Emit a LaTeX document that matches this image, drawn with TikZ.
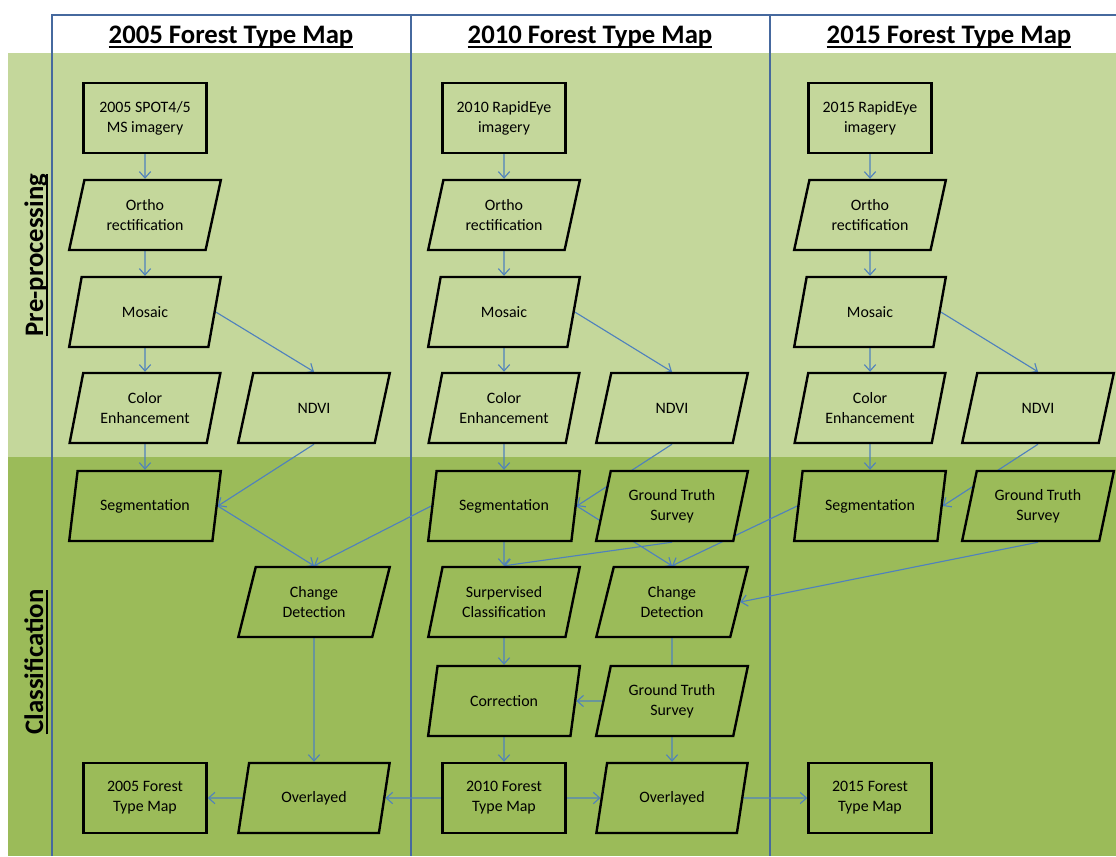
\documentclass[tikz,border=0pt]{standalone}
\usepackage{fontspec}
\setmainfont{Carlito}
\usetikzlibrary{shapes.geometric,arrows.meta}
\definecolor{lightolive}{HTML}{C4D79B}
\definecolor{darkolive}{HTML}{9BBB59}
\definecolor{framecol}{HTML}{46699E}
\definecolor{linkcol}{HTML}{4F81BD}
\pgfdeclarelayer{bands}
\pgfdeclarelayer{links}
\pgfsetlayers{bands,links,main}
\newcommand\thickul[1]{\begingroup\setbox0=\hbox{#1}\rlap{\raisebox{-3.2pt}{\rule{\wd0}{1.3pt}}}\box0\endgroup}

\begin{document}
\begin{tikzpicture}[x=0.025cm,y=-0.025cm,
		rbox/.style={draw,line width=1.7pt,minimum width=3.075cm,minimum height=1.75cm,align=center,font=\fontsize{11.3}{14.2}\selectfont},
		pbox/.style={trapezium,trapezium left angle=75,trapezium right angle=105,trapezium stretches=true,draw,line width=1.7pt,minimum width=3.8cm,minimum height=1.75cm,align=center,font=\fontsize{11.3}{14.2}\selectfont},
		up/.style={fill=lightolive},
		low/.style={fill=darkolive},
		link/.style={draw=linkcol,line width=0.8pt,-{Straight Barb[length=4.5pt,width=8pt]}},
		plainlink/.style={draw=linkcol,line width=0.8pt},
		head/.style={font=\fontsize{19}{22}\selectfont\bfseries},
		side/.style={font=\fontsize{19}{22}\selectfont\bfseries,rotate=90}]
		\useasboundingbox (0,0) rectangle (1116,856);
		\begin{pgfonlayer}{bands}
			\fill[lightolive] (8,53) rectangle (1116,457);
			\fill[darkolive] (8,457) rectangle (1116,856);
			\draw[framecol,line width=1.8pt] (1116,15) to (52,15) to (52,856);
			\draw[framecol,line width=1.8pt] (411,15) to (411,856);
			\draw[framecol,line width=1.8pt] (770,15) to (770,856);
		\end{pgfonlayer}
		
		\node[head] (t05) at (231,37) {\thickul{2005 Forest Type Map}};
		\node[head] (t10) at (590,37) {\thickul{2010 Forest Type Map}};
		\node[head] (t15) at (949,37) {\thickul{2015 Forest Type Map}};
		\node[side] (pre) at (36,255) {\thickul{Pre-processing}};
		\node[side] (cls) at (36,662) {\thickul{Classification}};
		
		\node[rbox,up] (img05) at (145,118) {2005 SPOT4/5\\MS imagery};
		\node[pbox,up] (ortho05) at (145,215) {Ortho\\rectification};
		\node[pbox,up] (mos05) at (145,312) {Mosaic};
		\node[pbox,up] (col05) at (145,408) {Color\\Enhancement};
		\node[pbox,up] (ndvi05) at (314,408) {NDVI};
		\node[pbox,low] (seg05) at (145,506) {Segmentation};
		\node[pbox,low] (chg05) at (314,602) {Change\\Detection};
		\node[pbox,low] (ovl05) at (314,798) {Overlayed};
		\node[rbox,low] (map05) at (145,798) {2005 Forest\\Type Map};
		
		\node[rbox,up] (img10) at (504,118) {2010 RapidEye\\imagery};
		\node[pbox,up] (ortho10) at (504,215) {Ortho\\rectification};
		\node[pbox,up] (mos10) at (504,312) {Mosaic};
		\node[pbox,up] (col10) at (504,408) {Color\\Enhancement};
		\node[pbox,up] (ndvi10) at (672,408) {NDVI};
		\node[pbox,low] (seg10) at (504,506) {Segmentation};
		\node[pbox,low] (gts10) at (672,506) {Ground Truth\\Survey};
		\node[pbox,low] (sup10) at (504,602) {Surpervised\\Classification};
		\node[pbox,low] (chg10) at (672,602) {Change\\Detection};
		\node[pbox,low] (cor10) at (504,701) {Correction};
		\node[pbox,low] (gtsb10) at (672,701) {Ground Truth\\Survey};
		\node[rbox,low] (map10) at (504,798) {2010 Forest\\Type Map};
		\node[pbox,low] (ovl10) at (672,798) {Overlayed};
		
		\node[rbox,up] (img15) at (870,118) {2015 RapidEye\\imagery};
		\node[pbox,up] (ortho15) at (870,215) {Ortho\\rectification};
		\node[pbox,up] (mos15) at (870,312) {Mosaic};
		\node[pbox,up] (col15) at (870,408) {Color\\Enhancement};
		\node[pbox,up] (ndvi15) at (1038,408) {NDVI};
		\node[pbox,low] (seg15) at (870,506) {Segmentation};
		\node[pbox,low] (gts15) at (1038,506) {Ground Truth\\Survey};
		\node[rbox,low] (map15) at (870,798) {2015 Forest\\Type Map};
		
		\begin{pgfonlayer}{links}
			\draw[link] (img05) to (ortho05);
			\draw[link] (ortho05) to (mos05);
			\draw[link] (mos05) to (col05);
			\draw[link] (col05) to (seg05);
			\draw[link] (mos05.east) to (ndvi05.north);
			\draw[link] (ndvi05.south) to (seg05.east);
			\draw[link] (seg05.east) to (chg05.north);
			\draw[link] (seg10.west) to (chg05.north);
			\draw[link] (chg05) to (ovl05);
			\draw[link] (ovl05) to (map05);
			\draw[link] (map10) to (ovl05);
			
			\draw[link] (img10) to (ortho10);
			\draw[link] (ortho10) to (mos10);
			\draw[link] (mos10) to (col10);
			\draw[link] (col10) to (seg10);
			\draw[link] (mos10.east) to (ndvi10.north);
			\draw[link] (ndvi10.south) to (seg10.east);
			\draw[link] (seg10.east) to (chg10.north);
			\draw[link] (seg10) to (sup10);
			\draw[link] (gts10.south) to (sup10.north);
			\draw[link] (seg15.west) to (chg10.north);
			\draw[link] (gts15.south) to (chg10.east);
			\draw[link] (sup10) to (cor10);
			\draw[plainlink] (chg10) to (gtsb10);
			\draw[link] (gtsb10) to (cor10);
			\draw[link] (cor10) to (map10);
			\draw[link] (gtsb10) to (ovl10);
			\draw[link] (map10) to (ovl10);
			\draw[link] (ovl10) to (map15);
			
			\draw[link] (img15) to (ortho15);
			\draw[link] (ortho15) to (mos15);
			\draw[link] (mos15) to (col15);
			\draw[link] (col15) to (seg15);
			\draw[link] (mos15.east) to (ndvi15.north);
			\draw[link] (ndvi15.south) to (seg15.east);
		\end{pgfonlayer}
	\end{tikzpicture}
\end{document}
